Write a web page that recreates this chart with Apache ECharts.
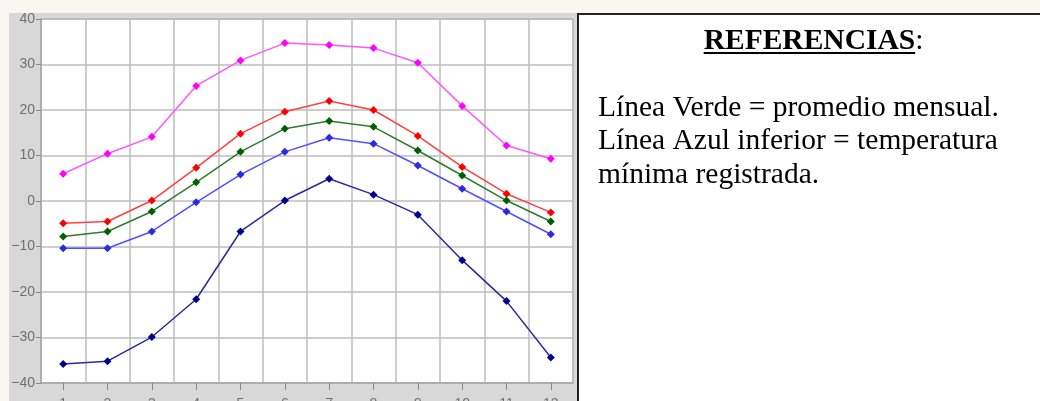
<!DOCTYPE html>
<html>
<head>
<meta charset="utf-8">
<script src="https://cdn.jsdelivr.net/npm/echarts@6/dist/echarts.min.js"></script>
<style>
html,body{margin:0;padding:0;background:#f8f7f2;}
#c{width:1040px;height:401px;}
</style>
</head>
<body>
<div id="c"></div>
<script>
var months = ['1','2','3','4','5','6','7','8','9','10','11','12'];
var maxAbs   = [6.0, 10.4, 14.1, 25.3, 30.9, 34.7, 34.3, 33.6, 30.4, 20.9, 12.2, 9.3];
var maxAvg   = [-4.9, -4.5, 0.1, 7.3, 14.8, 19.6, 22.0, 20.0, 14.3, 7.5, 1.6, -2.5];
var meanAvg  = [-7.8, -6.7, -2.3, 4.1, 10.8, 15.9, 17.6, 16.3, 11.1, 5.6, 0.1, -4.5];
var minAvg   = [-10.4, -10.4, -6.7, -0.3, 5.8, 10.8, 13.9, 12.6, 7.8, 2.7, -2.3, -7.3];
var minAbs   = [-35.8, -35.2, -29.9, -21.6, -6.7, 0.1, 4.9, 1.4, -3.0, -13.0, -22.0, -34.4];
var yTicks = {min: -40, max: 40, interval: 10};
var heading = 'REFERENCIAS';
var bodyLines = ['Línea Verde = promedio mensual.', 'Línea Azul inferior = temperatura', 'mínima registrada.'];

var chart = echarts.init(document.getElementById('c'), null, {renderer: 'canvas'});

var FS = 29.5;
var ctx = document.createElement('canvas').getContext('2d');
ctx.font = 'bold ' + FS + 'px "Liberation Serif"';
var hw = ctx.measureText(heading).width;
ctx.font = FS + 'px "Liberation Serif"';
var cw = ctx.measureText(':').width;
var boxCx = (577 + 1040) / 2 + 5;
var hx = boxCx - (hw + cw) / 2;
var OFF = 23;

function txt(s, x, base, bold) {
  return {type: 'text', silent: true, style: {text: s, x: x, y: base - OFF,
    font: (bold ? 'bold ' : '') + FS + 'px "Liberation Serif"', fill: '#000'}};
}

function mk(name, data, lineColor, symColor) {
  return {
    name: name, type: 'line', data: data,
    symbol: 'diamond', symbolSize: 8,
    lineStyle: {color: lineColor, width: 1.5},
    itemStyle: {color: symColor},
    emphasis: {disabled: true},
    animation: false
  };
}

chart.setOption({
  animation: false,
  backgroundColor: '#f8f7f2',
  graphic: [
    {type: 'rect', z: -10, silent: true, shape: {x: 9, y: 13, width: 568, height: 400}, style: {fill: '#d8d8d8'}},
    {type: 'rect', z: -10, silent: true, shape: {x: 578, y: 14, width: 470, height: 400}, style: {fill: '#ffffff', stroke: '#222', lineWidth: 2}},
    txt(heading, hx, 49, true),
    txt(':', hx + hw, 49, false),
    {type: 'rect', silent: true, shape: {x: hx, y: 52, width: hw, height: 2}, style: {fill: '#000'}},
    txt(bodyLines[0], 598, 116, false),
    txt(bodyLines[1], 598, 149.5, false),
    txt(bodyLines[2], 598, 183, false)
  ],
  grid: {left: 41, top: 19, right: 467, bottom: 18, outerBoundsMode: 'none', containLabel: false,
    show: true, backgroundColor: '#ffffff', borderColor: '#b4b4b4', borderWidth: 1.5},
  xAxis: {
    type: 'category', data: months, boundaryGap: true,
    axisLine: {onZero: false, lineStyle: {color: '#a8a8a8', width: 1.5}},
    axisTick: {show: true, alignWithLabel: true, length: 7, lineStyle: {color: '#888'}},
    axisLabel: {color: '#707070', fontSize: 14, fontFamily: '"Liberation Sans"', margin: 14},
    splitLine: {show: true, lineStyle: {color: '#bcbcbc', width: 1.5}}
  },
  yAxis: {
    type: 'value', min: yTicks.min, max: yTicks.max, interval: yTicks.interval,
    axisLine: {show: true, lineStyle: {color: '#a8a8a8', width: 1.5}},
    axisTick: {show: true, length: 5, lineStyle: {color: '#888'}},
    axisLabel: {color: '#707070', fontSize: 14, fontFamily: '"Liberation Sans"', margin: 6,
      formatter: function (v) { return v < 0 ? '\u2212' + (-v) : String(v); }},
    splitLine: {show: true, lineStyle: {color: '#bcbcbc', width: 1.5}}
  },
  series: [
    mk('max abs', maxAbs, '#ff55ff', '#ff00ff'),
    mk('max', maxAvg, '#ff4040', '#ff0000'),
    mk('media', meanAvg, '#2e7d2e', '#006000'),
    mk('min', minAvg, '#5050ff', '#2a2ae0'),
    mk('min abs', minAbs, '#2a2aa0', '#000090')
  ]
});
</script>
</body>
</html>
